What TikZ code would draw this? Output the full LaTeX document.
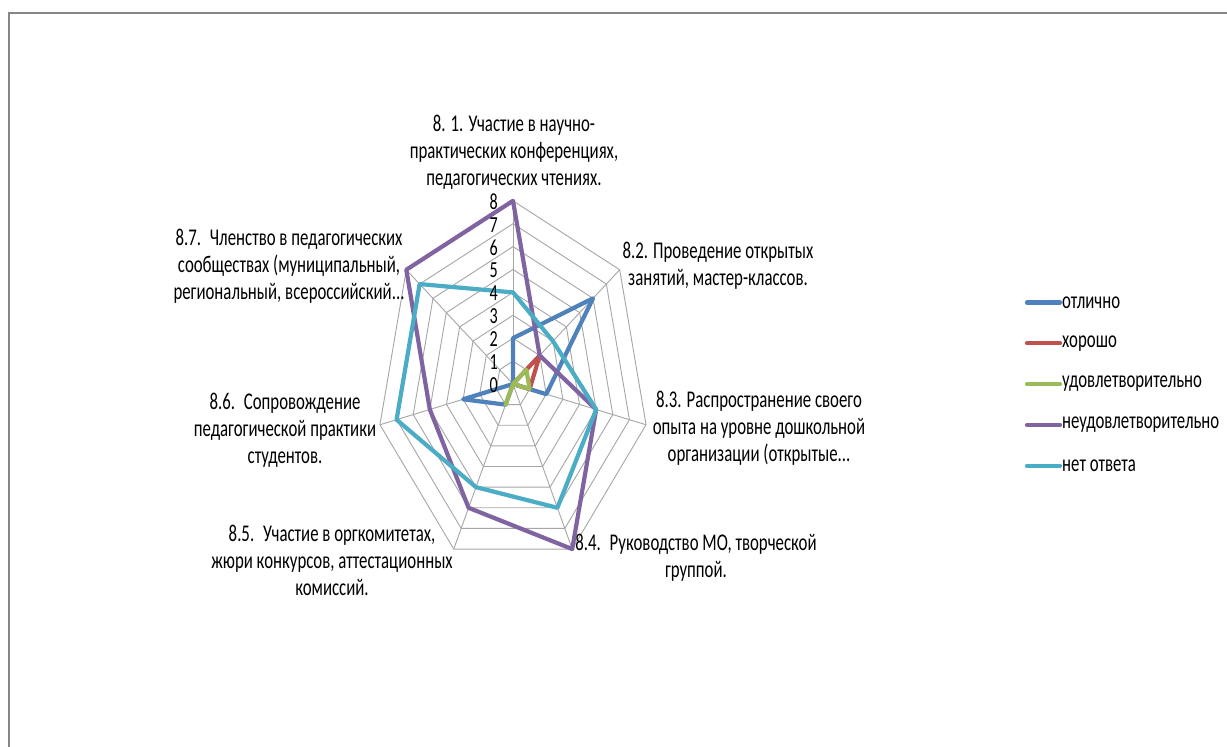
\documentclass[tikz,border=0pt]{standalone}
\usepackage{fontspec}
\setmainfont{Carlito}[FakeStretch=0.70]
\definecolor{sBlue}{HTML}{4F81BD}
\definecolor{sRed}{HTML}{C0504D}
\definecolor{sGreen}{HTML}{9BBB59}
\definecolor{sPurple}{HTML}{8064A2}
\definecolor{sCyan}{HTML}{4BACC6}
\definecolor{gridgray}{HTML}{A6A6A6}
\definecolor{framegray}{HTML}{868686}
\tikzset{
  gridline/.style={draw=gridgray, line width=0.9pt},
  series/.style={line width=4.2pt, line join=round, line cap=round},
  axislabel/.style={align=center, inner sep=0pt, font=\fontsize{24}{27}\selectfont},
  ticklabel/.style={anchor=east, inner sep=0pt, font=\fontsize{23}{27}\selectfont},
  legtext/.style={anchor=west, inner sep=0pt, font=\fontsize{24}{27}\selectfont},
  legline/.style={line width=4.2pt, line cap=round}
}
\begin{document}
\begin{tikzpicture}[x=1pt, y=-1pt]
\useasboundingbox (0,0) rectangle (1227,747);
\fill[white] (0,0) rectangle (1227,747);
% frame
\draw[framegray, line width=2pt] (1240,13) -- (9,13) -- (9,760);
% chart
\begin{scope}[shift={(513,384)}, xscale=17.06, yscale=-22.9]
  \foreach \r in {1,...,8}
    \draw[gridline] (90:\r) -- (38.5714:\r) -- (-12.8571:\r) -- (-64.2857:\r) -- (-115.7143:\r) -- (-167.1429:\r) -- (141.4286:\r) -- cycle;
  \foreach \a in {90,38.5714,-12.8571,-64.2857,-115.7143,-167.1429,141.4286}
    \draw[gridline] (0,0) -- (\a:8);
  % series
  \draw[series, sBlue] (90:2) -- (38.5714:6) -- (-12.8571:2) -- (-64.2857:0) -- (-115.7143:1) -- (-167.1429:3) -- (141.4286:0) -- cycle;
  \draw[series, sRed] (90:0) -- (38.5714:2) -- (-12.8571:1) -- (-64.2857:0) -- (-115.7143:0) -- (-167.1429:0) -- (141.4286:0) -- cycle;
  \draw[series, sGreen] (90:0) -- (38.5714:1) -- (-12.8571:1) -- (-64.2857:0) -- (-115.7143:1) -- (-167.1429:0) -- (141.4286:0) -- cycle;
  \draw[series, sPurple] (90:8) -- (38.5714:2) -- (-12.8571:5) -- (-64.2857:8) -- (-115.7143:6) -- (-167.1429:5) -- (141.4286:8) -- cycle;
  \draw[series, sCyan] (90:4) -- (38.5714:3) -- (-12.8571:5) -- (-64.2857:6) -- (-115.7143:5) -- (-167.1429:7) -- (141.4286:7) -- cycle;
\end{scope}
% tick labels
\foreach \v in {0,...,8}
  \node[ticklabel] (t\v) at (498, 385-\v*22.9) {\v};
% axis labels
\node[axislabel] (l1) at (514,152) {8. 1. Участие в научно-\\практических конференциях,\\педагогических чтениях.};
\node[axislabel] (l2) at (718,266) {8.2. Проведение открытых\\занятий, мастер-классов.};
\node[axislabel] (l3) at (759,428) {8.3. Распространение своего\\опыта на уровне дошкольной\\организации (открытые...};
\node[axislabel] (l4) at (696,558) {8.4.~ Руководство МО, творческой\\группой.};
\node[axislabel] (l5) at (332,560) {8.5.~ Участие в оргкомитетах,\\жюри конкурсов, аттестационных\\комиссий.};
\node[axislabel] (l6) at (285,430) {8.6.~ Сопровождение\\педагогической практики\\студентов.};
\node[axislabel] (l7) at (289,266) {8.7.~ Членство в педагогических\\сообществах (муниципальный,\\региональный, всероссийский...};
% legend
\coordinate (a1) at (1027,302.5); \coordinate (b1) at (1060,302.5);
\coordinate (a2) at (1027,343.3); \coordinate (b2) at (1060,343.3);
\coordinate (a3) at (1027,384.1); \coordinate (b3) at (1060,384.1);
\coordinate (a4) at (1027,424.9); \coordinate (b4) at (1060,424.9);
\coordinate (a5) at (1027,465.7); \coordinate (b5) at (1060,465.7);
\draw[legline, sBlue] (a1) -- (b1);
\draw[legline, sRed] (a2) -- (b2);
\draw[legline, sGreen] (a3) -- (b3);
\draw[legline, sPurple] (a4) -- (b4);
\draw[legline, sCyan] (a5) -- (b5);
\node[legtext] (g1) at (1062,302.5) {отлично};
\node[legtext] (g2) at (1062,343.3) {хорошо};
\node[legtext] (g3) at (1062,384.1) {удовлетворительно};
\node[legtext] (g4) at (1062,424.9) {неудовлетворительно};
\node[legtext] (g5) at (1062,465.7) {нет ответа};
\end{tikzpicture}
\end{document}
